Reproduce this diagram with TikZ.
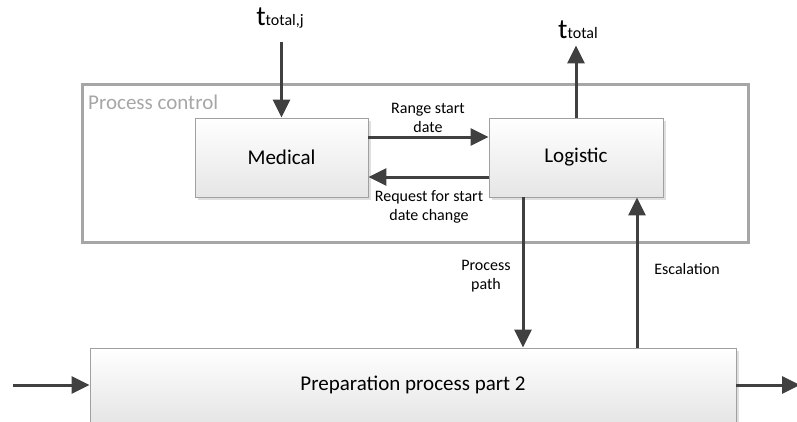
\documentclass[tikz,border=0pt]{standalone}
\usepackage{fontspec}
\setmainfont{Carlito}
\usetikzlibrary{arrows.meta,shadows}
\definecolor{arrowgray}{HTML}{404040}
\definecolor{framegray}{HTML}{A6A6A6}
\definecolor{boxline}{HTML}{A0A0A0}
\begin{document}
\begin{tikzpicture}[x=1pt,y=-1pt,
  block/.style={draw=boxline, line width=0.8pt, top color=white, bottom color=black!10,
    drop shadow={shadow xshift=2.5pt, shadow yshift=-2.5pt, fill=black!25, opacity=0.5},
    inner sep=0pt, font=\fontsize{21}{24}\selectfont},
  flow/.style={draw=arrowgray, line width=3pt, -{Triangle[length=18pt,width=17pt]}},
  lbl/.style={font=\fontsize{16}{19}\selectfont, align=center, inner sep=0pt, text=black}]
\useasboundingbox (0,0) rectangle (797,421);
\clip (0,0) rectangle (797,421);

% outer control frame
\node[draw=framegray, line width=3pt, minimum width=666pt, minimum height=158pt] (pc) at (415,163) {};
\node[anchor=base west, text=framegray, font=\fontsize{21}{24}\selectfont, inner sep=0pt] (pclabel) at (88,109) {Process control};

% blocks
\node[block, minimum width=173pt, minimum height=79pt] (med) at (281.5,157.5) {Medical};
\node[block, minimum width=174pt, minimum height=79pt] (lg) at (576,157.5) {Logistic};
\node[block, minimum width=646pt, minimum height=74pt] (prep) at (413,385) {Preparation process part 2};

% time labels
\node[anchor=base, inner sep=0pt] (ttj) at (280,25) {\fontsize{28}{28}\selectfont t\fontsize{16}{16}\selectfont total,j};
\node[anchor=base, inner sep=0pt] (tt) at (578,38) {\fontsize{28}{28}\selectfont t\fontsize{16}{16}\selectfont total};

% connectors
\draw[flow, shorten <=14pt] (ttj.south -| med.north) -- (med.north);
\draw[flow, shorten >=7pt] (lg.north) -- (tt.south -| lg.north);
\draw[flow] ([yshift=20.5pt]med.east) -- ([yshift=20.5pt]lg.west);
\draw[flow] ([yshift=-19.5pt]lg.west) -- ([yshift=-19.5pt]med.east);
\draw[flow] ([xshift=-53pt]lg.south) -- ([xshift=-53pt]lg.south |- prep.north);
\draw[flow] ([xshift=61pt]lg.south |- prep.north) -- ([xshift=61pt]lg.south);
\coordinate (in) at (13,385);
\coordinate (out) at (800,385);
\draw[flow] (in) -- (in -| prep.west);
\draw[flow] (prep.east |- out) -- (out);

% connector labels
\node[lbl] (lrange) at (428,118) {Range start\\date};
\node[lbl] (lreq) at (429,207) {Request for start\\date change};
\node[lbl] (lpath) at (486,276) {Process\\path};
\node[lbl, anchor=base] (lesc) at (687,274) {Escalation};
\end{tikzpicture}
\end{document}
